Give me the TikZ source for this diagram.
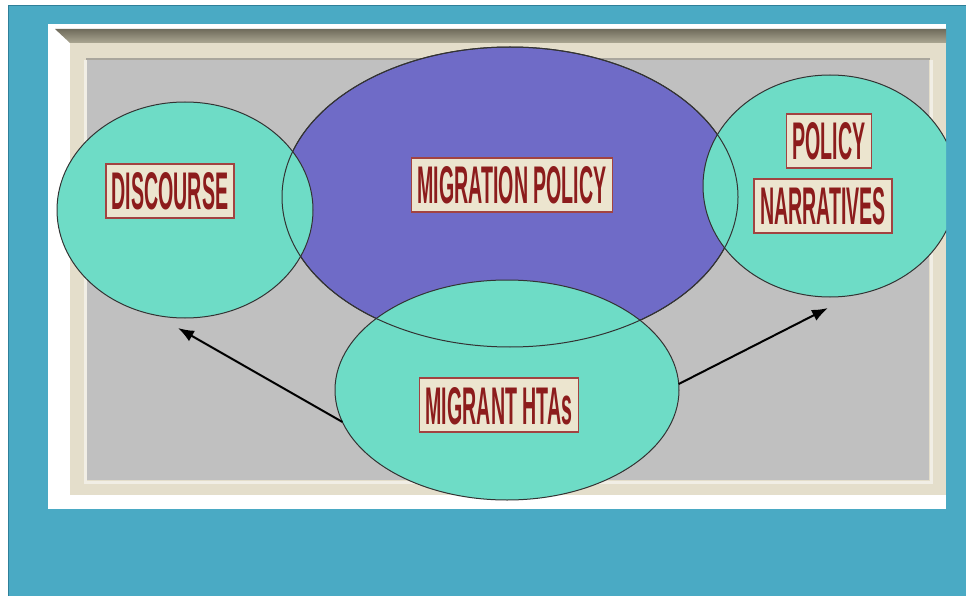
\documentclass[tikz,border=0pt]{standalone}
\usepackage{fontspec}
\usetikzlibrary{shapes.geometric,arrows.meta}
\newfontfamily\signfont[FakeStretch=0.37]{Liberation Sans}
\definecolor{sea}{HTML}{4AAAC4}
\definecolor{sea edge}{HTML}{2F7F99}
\definecolor{frame cream}{HTML}{E4DECB}
\definecolor{frame dark}{HTML}{6F6B5B}
\definecolor{frame light}{HTML}{ABA793}
\definecolor{board}{HTML}{C0C0C0}
\definecolor{zone teal}{HTML}{6EDCC6}
\definecolor{zone blue}{HTML}{6F6BC7}
\definecolor{sign red}{HTML}{8C1C1C}
\definecolor{sign edge}{HTML}{A24341}
\definecolor{sign paper}{HTML}{ECE5CF}
\tikzset{zone/.style={ellipse, inner sep=0pt, outer sep=0pt, draw=black!80, line width=1pt},
    sign/.style={draw=sign edge, line width=1.6pt, fill=sign paper, text=sign red,
        font=\signfont\bfseries\fontsize{53}{53}\selectfont,
        text height=38pt, text depth=0pt, inner xsep=6pt, inner ysep=8pt},
    link/.style={-{Latex[length=16pt,width=12pt]}, line width=2pt}}

\begin{document}
\begin{tikzpicture}[x=1pt,y=-1pt]
    \useasboundingbox (0,0) rectangle (966,596);
    \fill[white] (0,0) rectangle (966,596);
    \fill[sea] (8,5) rectangle (966,596);
    \draw[sea edge] (8,596) -- (8,5) -- (966,5);
    \fill[white] (48,24) rectangle (946,509);
    \fill[frame cream] (70,43) rectangle (946,495);
    \shade[top color=frame dark, bottom color=frame light] (55,29) -- (946,29) -- (946,43) -- (70,43) -- cycle;
    \fill[board] (87,60) rectangle (929,480);
    \draw[frame cream!50!white, line width=3pt] (85,60) -- (85,482) -- (931,482) -- (931,60);
    \draw[frame dark!60, line width=1.5pt] (86,59) -- (930,59);
    \begin{scope}
        \clip (48,24) rectangle (946,509);
        \node[zone, fill=zone blue, minimum width=456pt, minimum height=300pt] (migration) at (510,197) {};
        \node[zone, fill=zone teal, minimum width=256pt, minimum height=216pt] (discourse) at (185,210) {};
        \node[zone, fill=zone teal, minimum width=254pt, minimum height=222pt] (narratives) at (830,186) {};
        \node[zone, fill=zone teal, minimum width=344pt, minimum height=220pt] (htas) at (507,390) {};
        \node[zone, minimum width=456pt, minimum height=300pt] at (migration) {};
    \end{scope}
    \node[sign] (discourse label) at (170,191) {DISCOURSE};
    \node[sign] (migration label) at (512,185) {MIGRATION POLICY};
    \node[sign] (policy label) at (829,141) {POLICY};
    \node[sign] (narratives label) at (823,206) {NARRATIVES};
    \node[sign] (htas label) at (499,405) {MIGRANT HTAs};
    \draw[link] (htas.191) -- ([xshift=-7pt,yshift=-10pt]discourse.south);
    \draw[link] (htas.2) -- ([xshift=-2pt,yshift=-11pt]narratives.south);
\end{tikzpicture}
\end{document}
